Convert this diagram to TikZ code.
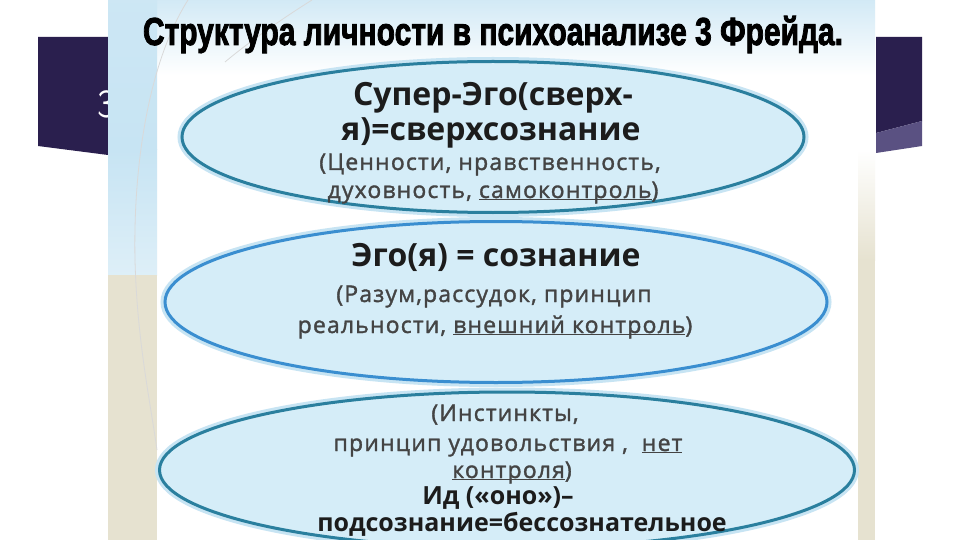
\documentclass[tikz,border=0pt]{standalone}
\usepackage{fontspec}
\setmainfont{Open Sans}
\newfontfamily\semib[FakeBold=1.5,LetterSpace=5]{Open Sans}
\newfontfamily\ttlfont[BoldFeatures={FakeBold=2.5}]{Liberation Sans}
\usetikzlibrary{shapes.geometric}
\definecolor{navy}{HTML}{2A1F4E}
\definecolor{lilac}{HTML}{5A5182}
\definecolor{efill}{HTML}{D5EDF8}
\definecolor{eteal}{HTML}{2A7F9E}
\definecolor{eblue}{HTML}{3A8ED0}
\definecolor{beige}{HTML}{E6E2D0}
\definecolor{skyb}{HTML}{C7E4F3}
\definecolor{headc}{HTML}{1C1C1C}
\definecolor{smallc}{HTML}{444444}
\newcommand\myul[1]{\underline{\smash{#1}}}
\tikzset{
  blob/.style={ellipse, fill=efill, line width=3pt, inner sep=0pt},
  halo/.style={ellipse, draw=skyb, line width=9pt, inner sep=0pt},
  head/.style={font=\bfseries\fontsize{32}{32}\selectfont, text=headc, inner sep=0pt, anchor=base},
  small/.style={font=\semib\fontsize{23}{23}\selectfont, text=smallc, inner sep=0pt, anchor=base},
  boldl/.style={font=\bfseries\fontsize{25}{25}\selectfont, text=headc, inner sep=0pt, anchor=base},
  deco/.style={draw=gray!30, line width=0.8pt}
}
\begin{document}
\begin{tikzpicture}[x=1pt,y=-1pt]
\clip (0,0) rectangle (960,540);
\fill[white] (0,0) rectangle (960,540);
% dark slide band
\fill[navy] (38,37) -- (108,37) -- (108,155) -- (38,146) -- cycle;
\node[text=white, font=\fontsize{40}{40}\selectfont\sffamily, anchor=base west, inner sep=0pt] (three) at (97,118) {3};
\fill[navy] (876,37) -- (922,37) -- (922,121) -- (876,133) -- cycle;
\fill[lilac] (876,133) -- (922,121) -- (922,146) -- (876,153) -- cycle;
% picture panel
\fill[white] (108,0) rectangle (875,540);
\shade[top color=skyb!80, bottom color=white] (157,0) rectangle (875,75);
\shade[top color=skyb!90, bottom color=skyb] (108,0) rectangle (157,150);
\shade[top color=skyb, bottom color=skyb!60] (108,150) rectangle (157,275);
\fill[beige] (108,275) rectangle (157,540);
\shade[top color=white, bottom color=beige] (858,150) rectangle (875,260);
\fill[beige] (858,260) rectangle (875,540);
\draw[deco] (188,0) .. controls (150,60) and (133,160) .. (135,260);
\draw[deco] (135,260) .. controls (137,340) and (150,400) .. (157,450);
\draw[deco] (312,0) .. controls (280,20) and (245,45) .. (225,62);
% title
\node[inner sep=0pt, anchor=base] (title) at (493,45) {\resizebox{700pt}{\height}{\ttlfont\bfseries\fontsize{39}{39}\selectfont Структура личности в психоанализе 3 Фрейда.}};
% ellipses
\node[halo, minimum width=622pt, minimum height=151pt] (h1) at (493,137) {};
\node[halo, minimum width=662pt, minimum height=161pt] (h2) at (496,302) {};
\node[halo, minimum width=695pt, minimum height=156pt] (h3) at (507,470) {};
\node[blob, draw=eteal, minimum width=622pt, minimum height=151pt] (super) at (493,137) {};
\node[blob, draw=eblue, minimum width=662pt, minimum height=161pt] (ego) at (496,302) {};
\node[blob, draw=eteal, minimum width=695pt, minimum height=156pt] (id) at (507,470) {};
% texts: super-ego
\node[head] (s1) at (493,106) {Супер-Эго(сверх-};
\node[head] (s2) at (491,141) {я)=сверхсознание};
\node[small] (s3) at (490,170) {(Ценности, нравственность,};
\node[small] (s4) at (493,198) {духовность, \myul{самоконтроль})};
% ego
\node[head] (e1) at (496,266) {Эго(я) = сознание};
\node[small] (e2) at (494,302) {(Разум,рассудок, принцип};
\node[small] (e3) at (495,333) {реальности, \myul{внешний контроль})};
% id
\node[small] (i1) at (505,421) {(Инстинкты,};
\node[small] (i2) at (508,451) {принцип удовольствия ,\hspace{14pt}\myul{нет}};
\node[small] (i3) at (512,478) {\myul{контроля})};
\node[boldl] (i4) at (498,504) {Ид («оно»)–};
\node[boldl] (i5) at (522,531) {подсознание=бессознательное};
\end{tikzpicture}
\end{document}
